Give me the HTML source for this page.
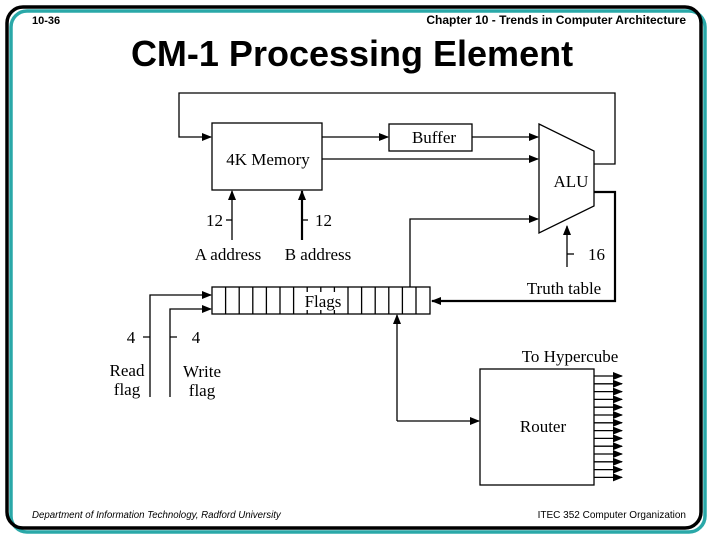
<!DOCTYPE html>
<html><head><meta charset="utf-8"><style>
body{margin:0;background:#fff;}
svg{display:block;}
</style></head><body>
<svg width="720" height="540" viewBox="0 0 720 540" xmlns="http://www.w3.org/2000/svg">
<defs>
<marker id="a" markerWidth="10" markerHeight="8" refX="9" refY="4" orient="auto" markerUnits="userSpaceOnUse"><path d="M0,0 L10,4 L0,8 z" fill="#000"/></marker>
</defs>
<rect x="11" y="11" width="694" height="521" rx="16" fill="none" stroke="#2aa8a8" stroke-width="3.5"/>
<rect x="7" y="7" width="694" height="521" rx="16" fill="none" stroke="#000" stroke-width="3.5"/>
<g font-family="Liberation Sans, sans-serif" font-weight="bold">
<text x="32" y="24" font-size="11">10-36</text>
<text x="686" y="24" font-size="12" text-anchor="end">Chapter 10 - Trends in Computer Architecture</text>
<text x="352" y="66" font-size="36" text-anchor="middle">CM-1 Processing Element</text>
</g>
<text x="32" y="518" font-size="9.7" font-style="italic" font-family="Liberation Sans, sans-serif">Department of Information Technology, Radford University</text>
<text x="686" y="518" font-size="10" text-anchor="end" font-family="Liberation Sans, sans-serif">ITEC 352 Computer Organization</text>

<g stroke="#000" fill="none" stroke-width="1.3">
<rect x="212" y="123" width="110" height="67"/>
<rect x="389" y="124" width="83" height="27"/>
<polygon points="539,124 594,151 594,206 539,233"/>
<rect x="480" y="369" width="114" height="116"/>
<rect x="212" y="287" width="218" height="27"/>
<path d="M225.6,287v27M239.2,287v27M252.8,287v27M266.4,287v27M280,287v27M293.6,287v27M307.2,287v27M320.8,287v27M334.4,287v27M348,287v27M361.6,287v27M375.2,287v27M388.8,287v27M402.4,287v27M416,287v27"/>
<path d="M594,164 H615 V93 H179 V137 H211" marker-end="url(#a)"/>
<path d="M322,137 H388" marker-end="url(#a)"/>
<path d="M472,137 H538" marker-end="url(#a)"/>
<path d="M322,159 H538" marker-end="url(#a)"/>
<path d="M410,287 V219 H538" marker-end="url(#a)"/>
<path d="M567,267 V226" marker-end="url(#a)"/>
<path d="M567,254 h7"/>
<path d="M232,240 V191" marker-end="url(#a)"/>
<path d="M226,220 h6"/>
<path d="M302,240 V191" stroke-width="2.2" marker-end="url(#a)"/>
<path d="M302,220 h6"/>
<path d="M594,192 H615 V301 H432" stroke-width="2.2" marker-end="url(#a)"/>
<path d="M150,397 V295 H211" marker-end="url(#a)"/>
<path d="M170,397 V309 H211" marker-end="url(#a)"/>
<path d="M143,337 h7 M170,337 h7"/>
<path d="M397,421 V315" marker-end="url(#a)"/>
<path d="M397,421 H479" marker-end="url(#a)"/>
<path d="M594,376H622" marker-end="url(#a)"/>
<path d="M594,383.8H622" marker-end="url(#a)"/>
<path d="M594,391.6H622" marker-end="url(#a)"/>
<path d="M594,399.4H622" marker-end="url(#a)"/>
<path d="M594,407.2H622" marker-end="url(#a)"/>
<path d="M594,415H622" marker-end="url(#a)"/>
<path d="M594,422.8H622" marker-end="url(#a)"/>
<path d="M594,430.6H622" marker-end="url(#a)"/>
<path d="M594,438.4H622" marker-end="url(#a)"/>
<path d="M594,446.2H622" marker-end="url(#a)"/>
<path d="M594,454H622" marker-end="url(#a)"/>
<path d="M594,461.8H622" marker-end="url(#a)"/>
<path d="M594,469.6H622" marker-end="url(#a)"/>
<path d="M594,477.4H622" marker-end="url(#a)"/>
</g>
<rect x="304" y="292" width="38" height="18" fill="#fff"/>
<g font-family="Liberation Serif, serif" font-size="17" fill="#000">
<text x="268" y="165" text-anchor="middle">4K Memory</text>
<text x="434" y="143" text-anchor="middle">Buffer</text>
<text x="571" y="187" text-anchor="middle">ALU</text>
<text x="223" y="226" text-anchor="end">12</text>
<text x="315" y="226">12</text>
<text x="228" y="260" text-anchor="middle">A address</text>
<text x="318" y="260" text-anchor="middle">B address</text>
<text x="588" y="260">16</text>
<text x="564" y="294" text-anchor="middle">Truth table</text>
<text x="323" y="307" text-anchor="middle">Flags</text>
<text x="131" y="343" text-anchor="middle">4</text>
<text x="196" y="343" text-anchor="middle">4</text>
<text x="127" y="376" text-anchor="middle">Read</text>
<text x="127" y="395" text-anchor="middle">flag</text>
<text x="202" y="377" text-anchor="middle">Write</text>
<text x="202" y="396" text-anchor="middle">flag</text>
<text x="570" y="362" text-anchor="middle">To Hypercube</text>
<text x="543" y="432" text-anchor="middle">Router</text>
</g>
</svg>
</body></html>
